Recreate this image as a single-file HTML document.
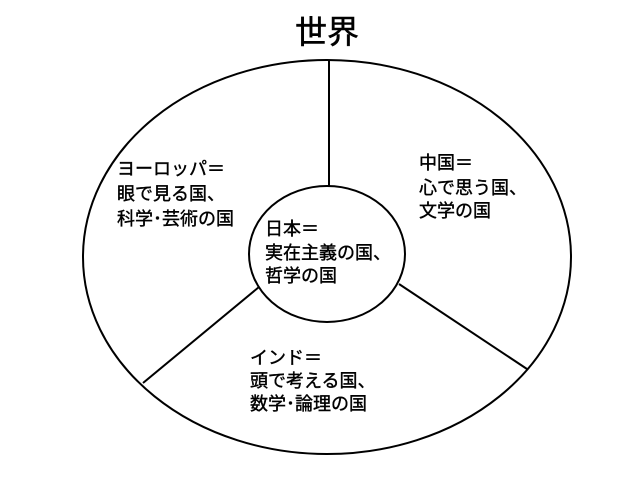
<!DOCTYPE html>
<html><head><meta charset="utf-8"><style>
html,body{margin:0;padding:0;background:#fff;}
svg text{font-family:"Liberation Sans","Noto Sans CJK JP",sans-serif;fill:#000;}
</style></head><body>
<svg width="640" height="480" viewBox="0 0 640 480" xmlns="http://www.w3.org/2000/svg">
<text x="327" y="43" font-size="32" text-anchor="middle" stroke="#000" stroke-width="0.5">世界</text>
<ellipse cx="327" cy="257" rx="244" ry="197" fill="none" stroke="#000" stroke-width="2"/>
<ellipse cx="327" cy="254" rx="78" ry="68" fill="none" stroke="#000" stroke-width="2"/>
<line x1="329" y1="60" x2="329" y2="186" stroke="#000" stroke-width="2"/>
<line x1="259" y1="287" x2="143" y2="383" stroke="#000" stroke-width="2"/>
<line x1="399" y1="284" x2="527" y2="369" stroke="#000" stroke-width="2"/>
<g font-size="18" stroke="#000" stroke-width="0.4">
<text x="117" y="175">ヨーロッパ＝</text>
<text x="117" y="200">眼で見る国、</text>
<text x="117" y="225">科学･芸術の国</text>
<text x="419" y="169">中国＝</text>
<text x="419" y="194">心で思う国、</text>
<text x="419" y="217">文学の国</text>
<text x="265" y="235">日本＝</text>
<text x="265" y="259">実在主義の国、</text>
<text x="265" y="282">哲学の国</text>
<text x="250" y="364">インド＝</text>
<text x="250" y="387">頭で考える国、</text>
<text x="250" y="410">数学･論理の国</text>
</g>
</svg>
</body></html>
